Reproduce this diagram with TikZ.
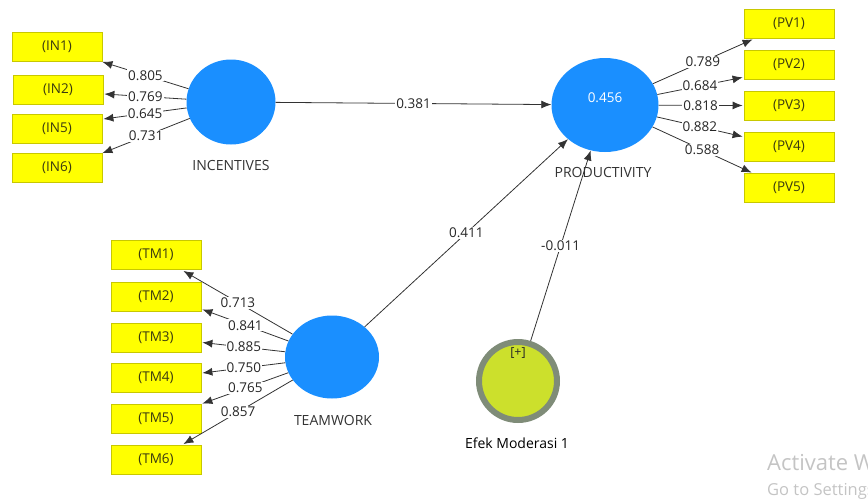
\documentclass[tikz,border=0pt]{standalone}
\usepackage{fontspec}
\setmainfont{Open Sans}
\usetikzlibrary{shapes.geometric,arrows.meta,calc}
\definecolor{lvblue}{HTML}{1A8FFF}
\definecolor{boxyel}{HTML}{FFFF00}
\definecolor{boxedge}{HTML}{C8C800}
\definecolor{boxtext}{HTML}{3A3A10}
\definecolor{modfill}{HTML}{CCE02C}
\definecolor{modring}{HTML}{7F8C78}
\definecolor{linecol}{HTML}{333333}
\definecolor{wm}{HTML}{C4C4C4}
\begin{document}
\begin{tikzpicture}[x=1pt,y=-1pt,
  ind/.style={draw=boxedge, fill=boxyel, line width=0.8pt, minimum width=90pt, minimum height=29pt, inner sep=0pt, font=\fontsize{13.5}{15}\selectfont, text=boxtext},
  lv/.style={ellipse, fill=lvblue, inner sep=0pt},
  lvname/.style={font=\fontsize{14}{16}\selectfont, text=black!80},
  ld/.style={fill=white, inner sep=1pt, font=\fontsize{13.5}{15}\selectfont, text=black!85},
  conn/.style={draw=linecol, line width=0.8pt, -{Latex[length=10pt,width=8pt]}},
]
\useasboundingbox (0,0) rectangle (868,499);

% indicators
\node[ind] (IN1) at (57,47) {(IN1)};
\node[ind] (IN2) at (58,90) {(IN2)};
\node[ind] (IN5) at (57,129) {(IN5)};
\node[ind] (IN6) at (57,168) {(IN6)};

\node[ind] (PV1) at (789,23.5) {(PV1)};
\node[ind] (PV2) at (789,64.5) {(PV2)};
\node[ind] (PV3) at (789,105.5) {(PV3)};
\node[ind] (PV4) at (789,146.5) {(PV4)};
\node[ind] (PV5) at (789,187.5) {(PV5)};

\node[ind] (TM1) at (156,255) {(TM1)};
\node[ind] (TM2) at (156,296.5) {(TM2)};
\node[ind] (TM3) at (156,337.5) {(TM3)};
\node[ind] (TM4) at (156,378) {(TM4)};
\node[ind] (TM5) at (156,418.5) {(TM5)};
\node[ind] (TM6) at (156,460) {(TM6)};

% latent variables
\node[lv, minimum width=89pt, minimum height=85pt] (INC) at (231,102) {};
\node[lvname] (INCn) at (231,165) {INCENTIVES};

\node[lv, minimum width=107pt, minimum height=94pt] (PROD) at (605,105) {};
\node[text=white, font=\fontsize{13.5}{15}\selectfont] (PRODv) at (605,98) {0.456};
\node[lvname] (PRODn) at (603,172) {PRODUCTIVITY};

\node[lv, minimum width=94pt, minimum height=83pt] (TW) at (332,357) {};
\node[lvname] (TWn) at (333,420) {TEAMWORK};

\node[circle, fill=modfill, draw=modring, line width=6pt, minimum size=78pt, inner sep=0pt] (MOD) at (518,381) {};
\node[font=\fontsize{12.5}{14}\selectfont, text=black!85] (MODp) at (518,353) {[+]};
\node[lvname, text=black] (MODn) at (517,443) {Efek Moderasi 1};

% outer loadings INCENTIVES
\draw[conn] (INC) -- node[ld]{0.805} (IN1.south east);
\draw[conn] (INC) -- node[ld]{0.769} ($(IN2.east)+(1,4)$);
\draw[conn] (INC) -- node[ld]{0.645} ($(IN5.east)+(1,-10)$);
\draw[conn] (INC) -- node[ld]{0.731} (IN6.north east);

% outer loadings PRODUCTIVITY
\draw[conn] (PROD) -- node[ld]{0.789} ($(PV1.south west)+(9,1)$);
\draw[conn] (PROD) -- node[ld]{0.684} ($(PV2.south west)+(-1,-2)$);
\draw[conn] (PROD) -- node[ld]{0.818} ($(PV3.west)+(-1,0)$);
\draw[conn] (PROD) -- node[ld]{0.882} ($(PV4.north west)+(-1,5)$);
\draw[conn] (PROD) -- node[ld]{0.588} ($(PV5.north west)+(8,0)$);

% outer loadings TEAMWORK
\draw[conn] (TW) -- node[ld]{0.713} ($(TM1.south east)+(-18,1)$);
\draw[conn] (TW) -- node[ld]{0.841} ($(TM2.south east)+(1,-2)$);
\draw[conn] (TW) -- node[ld]{0.885} ($(TM3.east)+(1,5)$);
\draw[conn] (TW) -- node[ld]{0.750} ($(TM4.east)+(1,-5)$);
\draw[conn] (TW) -- node[ld]{0.765} ($(TM5.north east)+(1,0)$);
\draw[conn] (TW) -- node[ld]{0.857} ($(TM6.north east)+(-18,-1)$);

% structural paths
\draw[conn] (INC) -- node[ld]{0.381} (PROD);
\draw[conn] (TW) -- node[ld]{0.411} (PROD);
\draw[conn] (MOD) -- node[ld]{-0.011} (PROD);

% watermark
\begin{scope}
\clip (0,0) rectangle (868,499);
\node[anchor=base west, text=wm, font=\fontsize{22}{24}\selectfont, inner sep=0pt] (wm1) at (767,470) {Activate Windows};
\node[anchor=base west, text=wm, font=\fontsize{16.5}{18}\selectfont, inner sep=0pt] (wm2) at (767,495) {Go to Settings to activate Windows.};
\end{scope}
\end{tikzpicture}
\end{document}
